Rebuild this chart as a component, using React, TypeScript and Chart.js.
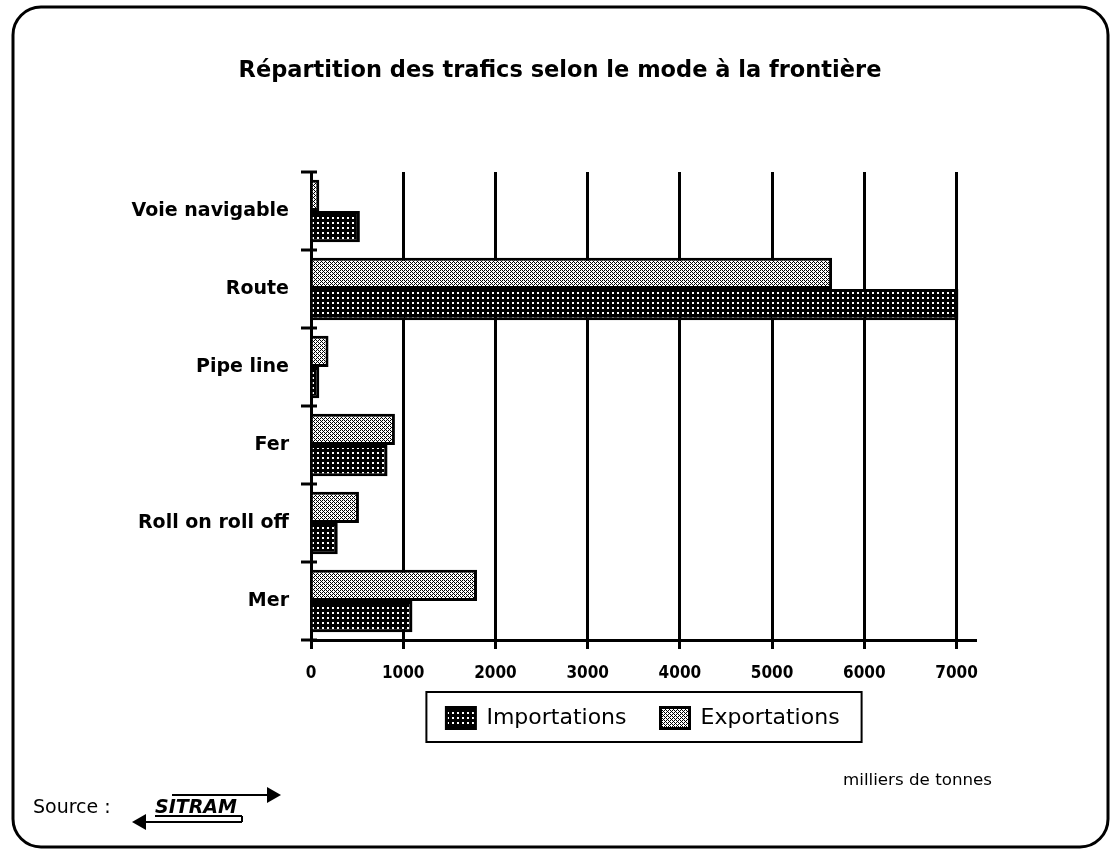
import React, { useEffect, useRef } from 'react';
import { Chart, registerables } from 'chart.js';

Chart.register(...registerables);

const chartTitle = 'Répartition des trafics selon le mode à la frontière';
const categories = ['Voie navigable', 'Route', 'Pipe line', 'Fer', 'Roll on roll off', 'Mer'];
const importations = [530, 7020, 90, 830, 290, 1100];
const exportations = [90, 5650, 190, 910, 520, 1800];
const xTickValues = [0, 1000, 2000, 3000, 4000, 5000, 6000, 7000];
const seriesNames = ['Importations', 'Exportations'];
const unitLabel = 'milliers de tonnes';
const sourceLabel = 'Source :';
const sourceName = 'SITRAM';

function makePattern(ctx: CanvasRenderingContext2D, kind: 'dark' | 'light') {
  const c = document.createElement('canvas');
  const g = c.getContext('2d')!;
  if (kind === 'dark') {
    c.width = 5; c.height = 5;
    g.fillStyle = '#000'; g.fillRect(0, 0, 5, 5);
    g.fillStyle = '#fff'; g.fillRect(2, 2, 2, 2);
  } else {
    c.width = 4; c.height = 4;
    g.fillStyle = '#fff'; g.fillRect(0, 0, 4, 4);
    g.fillStyle = '#000';
    [[0, 0], [2, 0], [1, 1], [0, 2], [2, 2], [3, 3]].forEach(([x, y]) => g.fillRect(x, y, 1, 1));
  }
  return ctx.createPattern(c, 'repeat')!;
}

const decorPlugin = {
  id: 'decor',
  afterLayout(chart: any) {
    const lg = chart.legend;
    if (lg) {
      lg.top -= 10;
      lg.bottom -= 10;
    }
  },
  beforeDraw(chart: any) {
    const ctx = chart.ctx;
    ctx.save();
    ctx.fillStyle = '#fff';
    ctx.fillRect(0, 0, chart.width, chart.height);
    ctx.restore();
  },
  afterDraw(chart: any) {
    const ctx = chart.ctx as CanvasRenderingContext2D;
    const area = chart.chartArea;
    ctx.save();
    ctx.strokeStyle = '#000';
    ctx.fillStyle = '#000';
    ctx.lineWidth = 3;
    // frame
    ctx.beginPath();
    (ctx as any).roundRect(13, 7, 1095, 840, 28);
    ctx.stroke();
    // y tick marks across the axis at category boundaries
    const ys = chart.scales.y;
    for (let i = 0; i <= categories.length; i++) {
      const py = ys.getPixelForValue(i - 0.5);
      ctx.beginPath();
      ctx.moveTo(area.left - 10, py);
      ctx.lineTo(area.left + 6, py);
      ctx.stroke();
    }
    // legend border
    const hb = chart.legend && chart.legend.legendHitBoxes;
    if (hb && hb.length) {
      const first = hb[0];
      const last = hb[hb.length - 1];
      const l = first.left - 20;
      const r = last.left + last.width + 22;
      const t = first.top - 15;
      const b = first.top + first.height + 13;
      ctx.lineWidth = 2;
      ctx.strokeRect(l, t, r - l, b - t);
    }
    // unit label
    ctx.font = '16.7px "DejaVu Sans"';
    ctx.textAlign = 'right';
    ctx.textBaseline = 'middle';
    ctx.fillText(unitLabel, 992, 781);
    // source
    ctx.font = '19px "DejaVu Sans"';
    ctx.textAlign = 'left';
    ctx.fillText(sourceLabel, 33, 808);
    // SITRAM logo
    ctx.font = 'italic bold 19px "DejaVu Sans"';
    ctx.textBaseline = 'alphabetic';
    ctx.fillText(sourceName, 155, 813);
    ctx.lineWidth = 2;
    ctx.beginPath();
    ctx.moveTo(172, 795); ctx.lineTo(268, 795);
    ctx.moveTo(155, 816); ctx.lineTo(242, 816);
    ctx.moveTo(242, 816); ctx.lineTo(242, 822);
    ctx.moveTo(145, 822); ctx.lineTo(242, 822);
    ctx.stroke();
    ctx.beginPath();
    ctx.moveTo(267, 787); ctx.lineTo(281, 795); ctx.lineTo(267, 803); ctx.closePath();
    ctx.fill();
    ctx.beginPath();
    ctx.moveTo(146, 814); ctx.lineTo(132, 822); ctx.lineTo(146, 830); ctx.closePath();
    ctx.fill();
    ctx.restore();
  },
};

export default function App() {
  const ref = useRef<HTMLCanvasElement>(null);
  useEffect(() => {
    document.body.style.margin = '0';
    const canvas = ref.current!;
    const ctx = canvas.getContext('2d')!;
    const dark = makePattern(ctx, 'dark');
    const light = makePattern(ctx, 'light');
    const chart = new Chart(canvas, {
      type: 'bar',
      data: {
        labels: categories,
        datasets: [
          {
            label: seriesNames[1],
            data: exportations,
            backgroundColor: light,
            borderColor: '#000',
            borderWidth: 3,
            categoryPercentage: 0.8,
            barPercentage: 1.0,
          },
          {
            label: seriesNames[0],
            data: importations,
            backgroundColor: dark,
            borderColor: '#000',
            borderWidth: 3,
            categoryPercentage: 0.8,
            barPercentage: 1.0,
          },
        ],
      },
      options: {
        indexAxis: 'y',
        responsive: false,
        animation: false,
        events: [],
        layout: { padding: { left: 0, right: 0, top: 0, bottom: 101 } },
        scales: {
          x: {
            type: 'linear',
            min: 0,
            max: 7200,
            afterBuildTicks: (scale: any) => {
              scale.ticks = xTickValues.map((v) => ({ value: v }));
            },
            afterFit: (scale: any) => {
              scale.height = 43;
            },
            grid: {
              color: '#000',
              lineWidth: 3,
              tickLength: 9,
              drawTicks: true,
            },
            border: { display: true, color: '#000', width: 3 },
            ticks: {
              color: '#000',
              padding: 14,
              font: { family: "'DejaVu Sans Condensed', 'DejaVu Sans'", size: 17, weight: 'bold' },
              callback: (v: any) => String(v),
            },
          },
          y: {
            type: 'category',
            afterFit: (scale: any) => {
              scale.width = 311;
            },
            grid: { display: false, drawTicks: false },
            border: { display: true, color: '#000', width: 3 },
            ticks: {
              color: '#000',
              padding: 22,
              font: { family: "'DejaVu Sans'", size: 19, weight: 'bold' },
            },
          },
          yRight: {
            type: 'linear',
            position: 'right',
            display: true,
            afterFit: (scale: any) => {
              scale.width = 145;
            },
            grid: { display: false, drawTicks: false },
            border: { display: false },
            ticks: { display: false },
          },
        },
        plugins: {
          title: {
            display: true,
            text: chartTitle,
            color: '#000',
            font: { family: "'DejaVu Sans'", size: 22.5, weight: 'bold' },
            padding: { top: 57.5, bottom: 87.5 },
          },
          legend: {
            display: true,
            position: 'bottom',
            fullSize: false,
            reverse: true,
            labels: {
              color: '#000',
              boxWidth: 29,
              boxHeight: 21,
              padding: 34,
              font: { family: "'DejaVu Sans'", size: 22 },
            },
          },
          tooltip: { enabled: false },
        },
      } as any,
      plugins: [decorPlugin],
    });
    return () => chart.destroy();
  }, []);
  return (
    <div style={{ width: 1120, height: 850, position: 'relative' }}>
      <canvas ref={ref} width={1120} height={850} style={{ display: 'block', width: 1120, height: 850 }} />
    </div>
  );
}
